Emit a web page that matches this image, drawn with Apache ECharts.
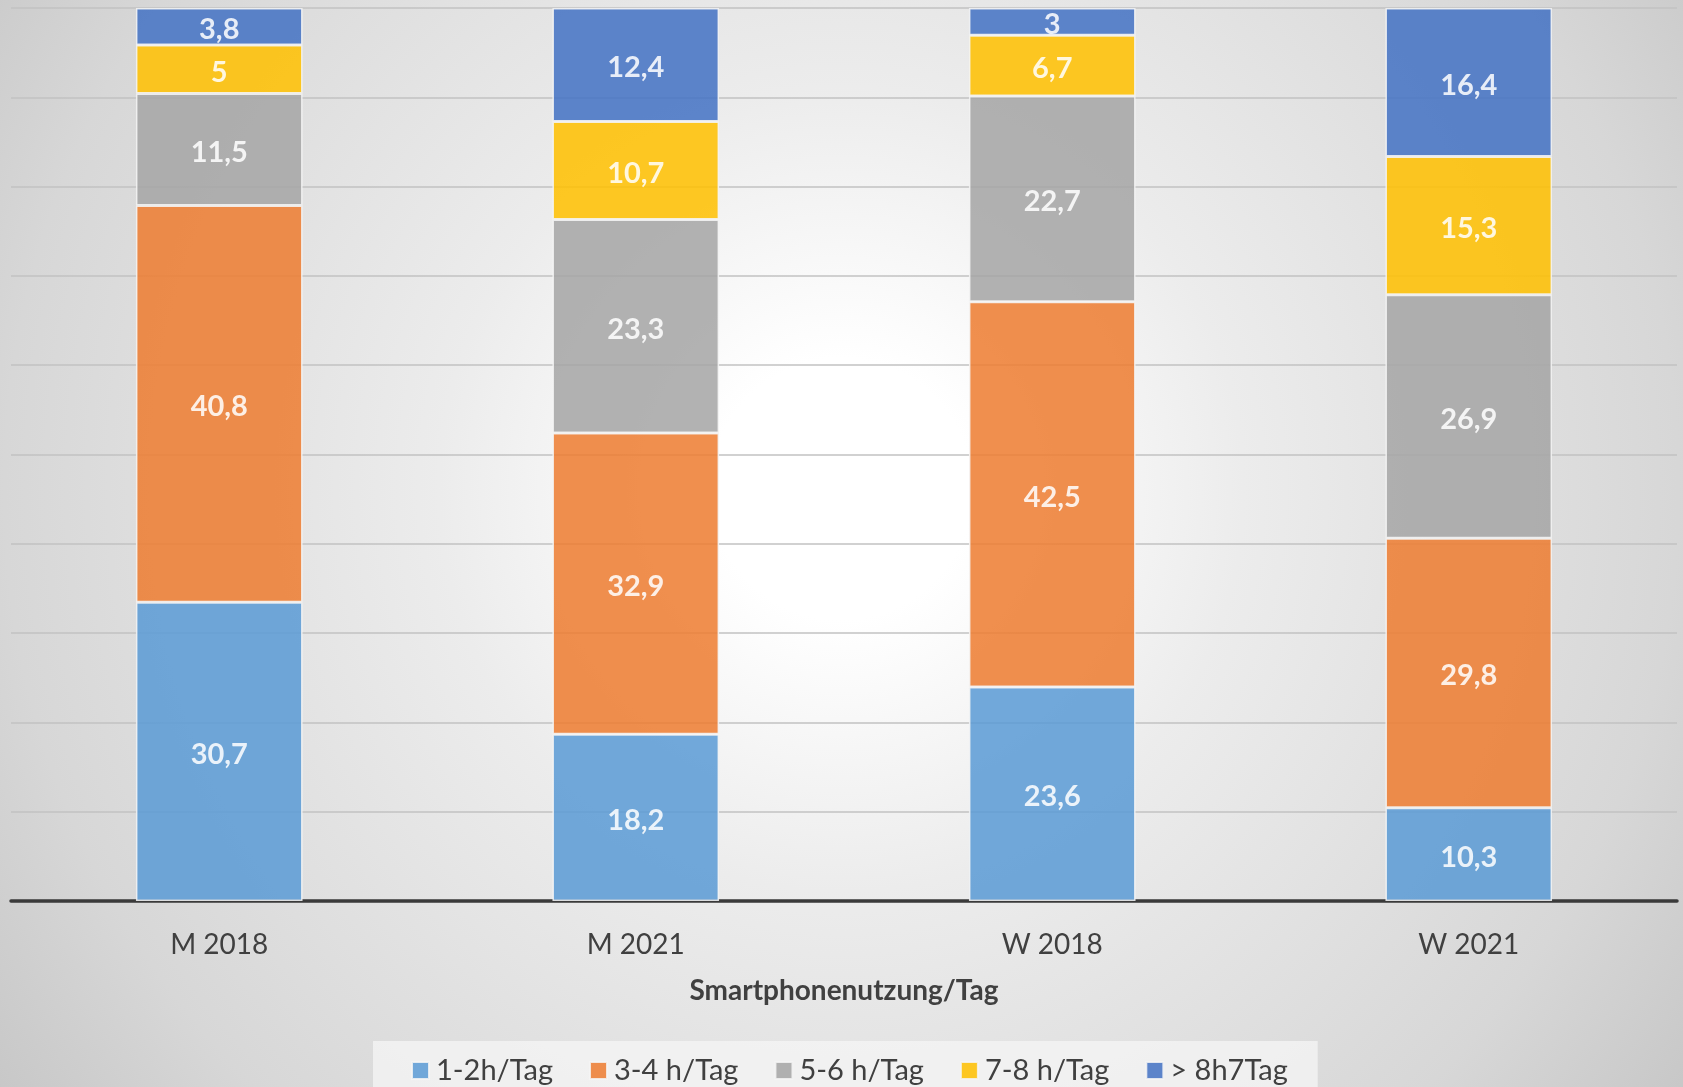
<!DOCTYPE html>
<html>
<head>
<meta charset="utf-8">
<style>
  html, body { margin: 0; padding: 0; background: #fff; }
  #chart { width: 1683px; height: 1087px; }
</style>
<script src="https://cdn.jsdelivr.net/npm/echarts@6/dist/echarts.min.js"></script>
</head>
<body>
<div id="chart"></div>
<script>
// ---- data ----
const categories = ['M 2018', 'M 2021', 'W 2018', 'W 2021'];
const seriesNames = ['1-2h/Tag', '3-4 h/Tag', '5-6 h/Tag', '7-8 h/Tag', '> 8h7Tag'];
const values12 = [30.7, 18.2, 23.6, 10.3];
const values34 = [40.8, 32.9, 42.5, 29.8];
const values56 = [11.5, 23.3, 22.7, 26.9];
const values78 = [5, 10.7, 6.7, 15.3];
const values8plus = [3.8, 12.4, 3, 16.4];
const yTicks = { min: 0, max: 100, interval: 10 };
const axisTitle = 'Smartphonenutzung/Tag';

const allSeries = [values12, values34, values56, values78, values8plus];
const colors = ['#5B9BD5', '#ED7D31', '#A5A5A5', '#FFC000', '#4472C4'];
const fontFamily = 'Lato, "Open Sans", sans-serif';

// 100% stacked: each bar normalised to its column total
const totals = categories.map((_, i) => allSeries.reduce((s, arr) => s + arr[i], 0));

const chart = echarts.init(document.getElementById('chart'));
chart.setOption({
  backgroundColor: {
    type: 'radial', x: 0.5, y: 0.45, r: 1,
    colorStops: [
      { offset: 0, color: '#ffffff' },
      { offset: 0.12, color: '#ffffff' },
      { offset: 0.37, color: '#ececec' },
      { offset: 0.77, color: '#d7d7d7' },
      { offset: 0.97, color: '#c6c6c6' }
    ]
  },
  textStyle: { fontFamily: fontFamily },
  animation: false,
  grid: { left: 11, right: 6, top: 8, bottom: 186, containLabel: false },
  legend: {
    data: seriesNames,
    left: 373,
    top: 1041,
    padding: [15, 30, 30, 38],
    backgroundColor: 'rgba(246,246,246,0.75)',
    itemWidth: 17,
    itemHeight: 17,
    itemGap: 36,
    icon: 'rect',
    textStyle: { fontSize: 29, color: '#404040', fontFamily: fontFamily, padding: [0, 0, 0, 2] }
  },
  xAxis: {
    type: 'category',
    data: categories,
    axisLine: { lineStyle: { color: '#3a3a3a', width: 3.5 } },
    axisTick: { show: false },
    axisLabel: { fontSize: 28, color: '#404040', margin: 30, fontFamily: fontFamily },
    name: axisTitle,
    nameLocation: 'middle',
    nameGap: 76,
    nameTextStyle: { fontSize: 28, fontWeight: 'bold', color: '#404040', fontFamily: fontFamily }
  },
  yAxis: {
    type: 'value',
    min: yTicks.min, max: yTicks.max, interval: yTicks.interval,
    axisLabel: { show: false },
    axisLine: { show: false },
    axisTick: { show: false },
    splitLine: { lineStyle: { color: '#c2c2c2', width: 1.5 } }
  },
  series: allSeries.map((arr, si) => ({
    name: seriesNames[si],
    type: 'bar',
    stack: 'total',
    barWidth: '40%',
    itemStyle: { color: colors[si], opacity: 0.86, borderColor: '#f4f4f4', borderWidth: 1.5 },
    label: {
      show: true,
      position: 'inside',
      offset: [0, 3],
      color: '#ffffff',
      fontSize: 29,
      fontWeight: 'bold',
      fontFamily: fontFamily,
      formatter: p => String(arr[p.dataIndex]).replace('.', ',')
    },
    data: arr.map((v, i) => v / totals[i] * 100)
  }))
});
</script>
</body>
</html>
